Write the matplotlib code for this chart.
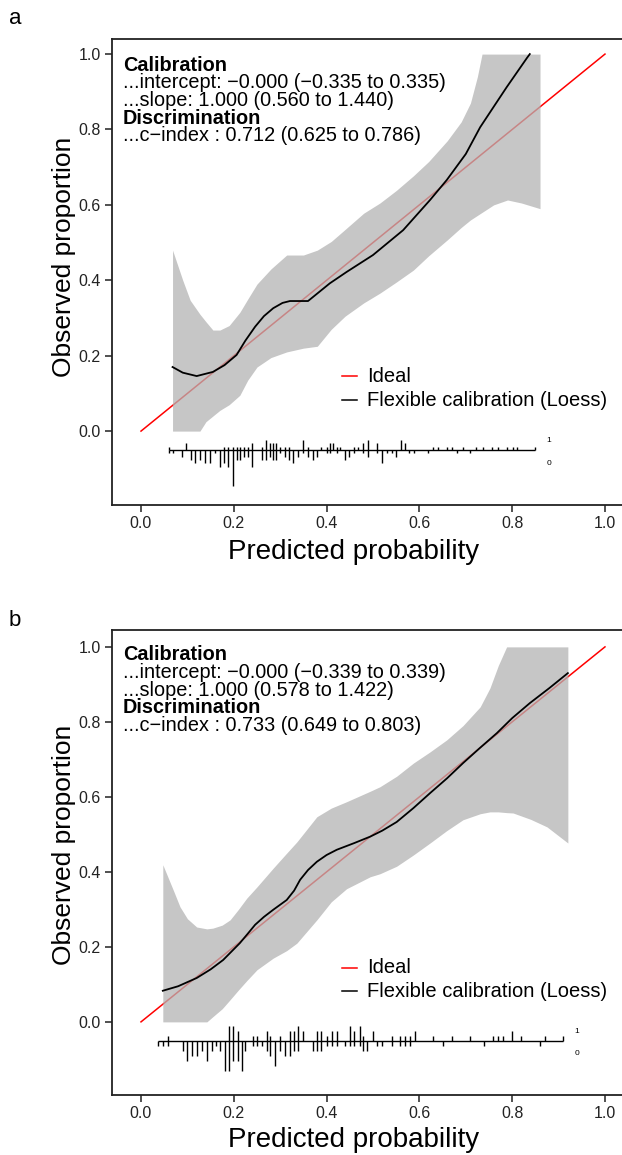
import matplotlib
matplotlib.use("Agg")
import matplotlib.pyplot as plt
import numpy as np

plt.rcParams['font.family'] = ['Liberation Sans', 'DejaVu Sans']

# ---------------- panel a ----------------
a_stats = ["...intercept: \u22120.000 (\u22120.335 to 0.335)",
           "...slope: 1.000 (0.560 to 1.440)",
           "...c\u2212index : 0.712 (0.625 to 0.786)"]

a_band_x = [0.068, 0.09, 0.106, 0.127, 0.14, 0.155, 0.17, 0.19, 0.213, 0.23, 0.25, 0.28, 0.314, 0.35,
            0.38, 0.41, 0.44, 0.48, 0.515, 0.55, 0.587, 0.62, 0.66, 0.69, 0.71, 0.725, 0.735, 0.76, 0.79,
            0.82, 0.86]
a_band_hi = [0.48, 0.40, 0.347, 0.31, 0.29, 0.268, 0.268, 0.28, 0.315, 0.35, 0.39, 0.43, 0.467, 0.467,
             0.48, 0.503, 0.535, 0.578, 0.605, 0.638, 0.677, 0.715, 0.77, 0.82, 0.87, 0.94, 1.0, 1.0, 1.0,
             1.0, 1.0]
a_band_lo = [0.0, 0.0, 0.0, 0.0, 0.025, 0.04, 0.055, 0.07, 0.095, 0.135, 0.17, 0.195, 0.21, 0.22,
             0.225, 0.27, 0.305, 0.34, 0.366, 0.395, 0.427, 0.465, 0.507, 0.54, 0.56, 0.572, 0.58, 0.60,
             0.613, 0.605, 0.59]

a_loess_x = [0.068, 0.09, 0.12, 0.155, 0.18, 0.206, 0.225, 0.246, 0.265, 0.285, 0.305, 0.321, 0.36, 0.38,
             0.407, 0.443, 0.5, 0.565, 0.623, 0.659, 0.70, 0.731, 0.76, 0.788, 0.832, 0.838]
a_loess_y = [0.17, 0.155, 0.146, 0.157, 0.175, 0.202, 0.24, 0.277, 0.305, 0.326, 0.34, 0.345, 0.345, 0.365,
             0.392, 0.422, 0.467, 0.533, 0.613, 0.666, 0.735, 0.806, 0.86, 0.912, 0.99, 1.0]

a_rug_x = [0.060, 0.070, 0.089, 0.098, 0.107, 0.116, 0.127, 0.138, 0.149, 0.159, 0.170, 0.179, 0.188, 0.199,
           0.206, 0.213, 0.222, 0.231, 0.240, 0.260, 0.269, 0.278, 0.285, 0.292, 0.300, 0.310, 0.319, 0.328,
           0.339, 0.350, 0.359, 0.370, 0.379, 0.389, 0.400, 0.407, 0.414, 0.422, 0.429, 0.440, 0.449, 0.458,
           0.468, 0.479, 0.490, 0.509, 0.519, 0.530, 0.540, 0.550, 0.560, 0.569, 0.578, 0.588, 0.619, 0.630,
           0.641, 0.659, 0.670, 0.680, 0.695, 0.709, 0.723, 0.738, 0.756, 0.770, 0.788, 0.802, 0.810, 0.849]
a_rug_up = [1, 0, 0, 2, 0, 0, 0, 0, 0, 0, 0, 1, 1, 1, 1, 1, 1, 1, 2, 1, 3, 2, 2, 2, 1, 1, 1, 0,
            0, 3, 1, 0, 0, 1, 1, 2, 2, 1, 1, 0, 0, 1, 1, 2, 3, 2, 0, 0, 0, 0, 3, 2, 0, 0, 0, 1,
            1, 1, 1, 0, 1, 0, 1, 1, 1, 1, 1, 1, 1, 1]
a_rug_dn = [1, 1, 2, 0, 3, 4, 3, 4, 4, 1, 5, 4, 5, 11, 3, 3, 2, 2, 5, 3, 3, 2, 3, 3, 1, 2, 3, 4,
            2, 1, 2, 3, 2, 0, 1, 1, 0, 1, 0, 3, 2, 1, 0, 1, 2, 1, 4, 1, 1, 2, 0, 0, 1, 1, 1, 0,
            0, 0, 0, 1, 0, 1, 0, 0, 0, 0, 0, 0, 0, 0]

# ---------------- panel b ----------------
b_stats = ["...intercept: \u22120.000 (\u22120.339 to 0.339)",
           "...slope: 1.000 (0.578 to 1.422)",
           "...c\u2212index : 0.733 (0.649 to 0.803)"]

b_band_x = [0.047, 0.07, 0.084, 0.10, 0.12, 0.142, 0.155, 0.175, 0.192, 0.21, 0.228, 0.25, 0.285, 0.314,
            0.336, 0.379, 0.41, 0.443, 0.494, 0.515, 0.551, 0.587, 0.623, 0.659, 0.694, 0.731, 0.752, 0.77,
            0.788, 0.802, 0.84, 0.875, 0.92]
b_band_hi = [0.419, 0.35, 0.307, 0.275, 0.253, 0.248, 0.25, 0.258, 0.272, 0.30, 0.33, 0.36, 0.41, 0.45,
             0.48, 0.547, 0.57, 0.587, 0.615, 0.627, 0.655, 0.69, 0.72, 0.752, 0.79, 0.84, 0.89, 0.95,
             1.0, 1.0, 1.0, 1.0, 1.0]
b_band_lo = [0.0, 0.0, 0.0, 0.0, 0.0, 0.0, 0.014, 0.035, 0.059, 0.085, 0.11, 0.139, 0.17, 0.19,
             0.21, 0.272, 0.32, 0.355, 0.387, 0.395, 0.415, 0.445, 0.477, 0.51, 0.539, 0.555, 0.56, 0.56,
             0.558, 0.557, 0.54, 0.52, 0.477]

b_loess_x = [0.047, 0.08, 0.12, 0.15, 0.177, 0.213, 0.23, 0.246, 0.265, 0.285, 0.314, 0.33, 0.343, 0.36,
             0.379, 0.40, 0.422, 0.46, 0.494, 0.52, 0.551, 0.587, 0.623, 0.66, 0.694, 0.73, 0.767, 0.80,
             0.838, 0.88, 0.92]
b_loess_y = [0.083, 0.095, 0.117, 0.14, 0.165, 0.21, 0.235, 0.259, 0.28, 0.299, 0.325, 0.35, 0.379, 0.405,
             0.427, 0.445, 0.459, 0.477, 0.494, 0.51, 0.533, 0.57, 0.61, 0.65, 0.69, 0.73, 0.77, 0.81,
             0.85, 0.89, 0.93]

b_rug_x = [0.037, 0.047, 0.059, 0.091, 0.100, 0.109, 0.120, 0.131, 0.142, 0.152, 0.162, 0.170, 0.181, 0.190,
           0.199, 0.208, 0.217, 0.224, 0.241, 0.249, 0.260, 0.271, 0.279, 0.289, 0.300, 0.310, 0.321, 0.330,
           0.339, 0.350, 0.370, 0.380, 0.389, 0.400, 0.411, 0.422, 0.440, 0.450, 0.459, 0.471, 0.479, 0.488,
           0.499, 0.508, 0.519, 0.540, 0.558, 0.569, 0.580, 0.591, 0.630, 0.650, 0.670, 0.709, 0.739, 0.759,
           0.770, 0.781, 0.800, 0.820, 0.860, 0.871, 0.910]
b_rug_up = [0, 0, 1, 0, 0, 0, 0, 0, 0, 0, 0, 0, 0, 3, 3, 2, 0, 0, 1, 1, 0, 2, 1, 0, 1, 0, 2, 2,
            3, 2, 0, 2, 2, 1, 2, 2, 0, 3, 2, 3, 1, 0, 2, 0, 0, 1, 1, 1, 1, 2, 1, 0, 1, 1, 0, 1,
            1, 1, 2, 1, 0, 1, 1]
b_rug_dn = [1, 1, 1, 2, 4, 3, 3, 2, 4, 2, 1, 2, 6, 6, 4, 4, 6, 2, 1, 1, 1, 2, 3, 5, 2, 3, 3, 2,
            2, 0, 2, 2, 2, 1, 1, 1, 1, 1, 1, 1, 2, 2, 0, 1, 1, 1, 1, 1, 1, 0, 0, 1, 0, 0, 1, 0,
            0, 0, 0, 0, 1, 0, 0]

GRAY = (0.70, 0.70, 0.70)


def draw_panel(ax, stats, bx, blo, bhi, lx, ly, rx, rup, rdn, unit, ylims):
    ax.plot([0, 1], [0, 1], color='red', lw=1.1, zorder=1)
    ax.fill_between(bx, blo, bhi, color=GRAY, alpha=0.75, lw=0, zorder=2)
    ax.plot(lx, ly, color='black', lw=1.3, zorder=3)

    # rug of predicted probabilities (events up, non-events down)
    base = -0.05
    ax.hlines(base, min(rx), max(rx), color='black', lw=1.0, zorder=3)
    for x, u, d in zip(rx, rup, rdn):
        if u:
            ax.vlines(x, base, base + u * unit, color='black', lw=1.0, zorder=3)
        if d:
            ax.vlines(x, base - d * unit, base, color='black', lw=1.0, zorder=3)
    ax.text(max(rx) + 0.03, base + 0.025, "1", fontsize=6, ha='center', va='center')
    ax.text(max(rx) + 0.03, base - 0.035, "0", fontsize=6, ha='center', va='center')

    # stats block
    y0 = ylims[2]
    step = 0.047
    tx = -0.039
    fs = 14.3
    ax.text(tx, y0, "Calibration", fontsize=fs, fontweight='bold', va='center')
    ax.text(tx, y0 - step, stats[0], fontsize=fs, va='center')
    ax.text(tx, y0 - 2 * step, stats[1], fontsize=fs, va='center')
    ax.text(tx, y0 - 3 * step, "Discrimination", fontsize=fs, fontweight='bold', va='center')
    ax.text(tx, y0 - 4 * step, stats[2], fontsize=fs, va='center')

    # legend
    ly0 = 0.145
    ax.plot([0.433, 0.466], [ly0, ly0], color='red', lw=1.1)
    ax.plot([0.433, 0.466], [ly0 - 0.063, ly0 - 0.063], color='black', lw=1.1)
    ax.text(0.487, ly0, "Ideal", fontsize=14.5, va='center')
    ax.text(0.487, ly0 - 0.063, "Flexible calibration (Loess)", fontsize=14.5, va='center')

    ax.set_xlim(-0.0625, 1.041)
    ax.set_ylim(ylims[0], ylims[1])
    ticks = [0.0, 0.2, 0.4, 0.6, 0.8, 1.0]
    ax.set_xticks(ticks)
    ax.set_yticks(ticks)
    ax.set_xticklabels(["%.1f" % t for t in ticks])
    ax.set_yticklabels(["%.1f" % t for t in ticks])
    ax.tick_params(direction='out', length=5, width=1.1, labelsize=11.5, colors='#222222', pad=3)
    for s in ax.spines.values():
        s.set_linewidth(1.3)
        s.set_color('#222222')


fig = plt.figure(figsize=(6.22, 11.55), dpi=100)
ax1 = fig.add_axes([112 / 622, 1 - 505 / 1155, 512 / 622, 466 / 1155])
ax2 = fig.add_axes([112 / 622, 1 - 1095 / 1155, 512 / 622, 465 / 1155])

draw_panel(ax1, a_stats, a_band_x, a_band_lo, a_band_hi, a_loess_x, a_loess_y,
           a_rug_x, a_rug_up, a_rug_dn, 0.0088, (-0.196, 1.040, 0.971))
draw_panel(ax2, b_stats, b_band_x, b_band_lo, b_band_hi, b_loess_x, b_loess_y,
           b_rug_x, b_rug_up, b_rug_dn, 0.0133, (-0.195, 1.045, 0.979))

for yc, xlab_y, tag, tag_y in [(257, 552, "a", 18), (845, 1140, "b", 620)]:
    fig.text(64 / 622, 1 - yc / 1155, "Observed proportion", rotation=90, fontsize=19,
             ha='center', va='center')
    fig.text(354 / 622, 1 - xlab_y / 1155, "Predicted probability", fontsize=20,
             ha='center', va='center')
    fig.text(15 / 622, 1 - tag_y / 1155, tag, fontsize=16, ha='center', va='center')

fig.savefig("out.png", dpi=100)
